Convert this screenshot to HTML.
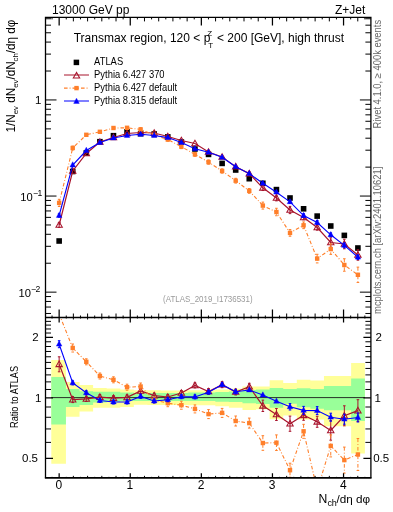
<!DOCTYPE html>
<html><head><meta charset="utf-8"><style>
html,body{margin:0;padding:0;background:#fff;width:393px;height:512px;overflow:hidden;font-family:"Liberation Sans",sans-serif}
svg{display:block;will-change:transform}
</style></head><body>
<svg width="393" height="512" viewBox="0 0 393 512" font-family="'Liberation Sans', sans-serif">
<defs><clipPath id="cr"><rect x="45.5" y="317.5" width="325.4" height="160.35000000000002"/></clipPath><clipPath id="cm"><rect x="45.5" y="17.4" width="325.4" height="300.1"/></clipPath></defs>
<g clip-path="url(#cr)">
<path d="M51.3,360.1 L65.94,360.1 L65.94,382 L79.52,382 L79.52,385.1 L93.1,385.1 L93.1,388 L106.68,388 L106.68,388.4 L120.26,388.4 L120.26,389.5 L133.84,389.5 L133.84,390.3 L147.42,390.3 L147.42,390.3 L161,390.3 L161,390.5 L174.58,390.5 L174.58,390.5 L188.16,390.5 L188.16,390.2 L201.74,390.2 L201.74,390.2 L215.32,390.2 L215.32,389.5 L228.9,389.5 L228.9,388.7 L242.48,388.7 L242.48,386.4 L256.06,386.4 L256.06,386.4 L269.64,386.4 L269.64,380.3 L283.22,380.3 L283.22,383 L296.8,383 L296.8,379.8 L310.38,379.8 L310.38,380.6 L323.96,380.6 L323.96,376 L337.54,376 L337.54,376 L351.12,376 L351.12,363.1 L364.9,363.1 L364.9,453.6 L351.12,453.6 L351.12,426.3 L337.54,426.3 L337.54,426.3 L323.96,426.3 L323.96,419.4 L310.38,419.4 L310.38,419.4 L296.8,419.4 L296.8,415.4 L283.22,415.4 L283.22,419.2 L269.64,419.2 L269.64,409.3 L256.06,409.3 L256.06,410.1 L242.48,410.1 L242.48,407.8 L228.9,407.8 L228.9,406.2 L215.32,406.2 L215.32,405.2 L201.74,405.2 L201.74,405.2 L188.16,405.2 L188.16,405 L174.58,405 L174.58,405 L161,405 L161,405 L147.42,405 L147.42,404.8 L133.84,404.8 L133.84,407 L120.26,407 L120.26,407.8 L106.68,407.8 L106.68,407.8 L93.1,407.8 L93.1,411.5 L79.52,411.5 L79.52,416.8 L65.94,416.8 L65.94,463.7 L51.3,463.7 Z" fill="#ffff99"/>
<path d="M51.3,376.9 L65.94,376.9 L65.94,389.1 L79.52,389.1 L79.52,391.3 L93.1,391.3 L93.1,391.8 L106.68,391.8 L106.68,391.8 L120.26,391.8 L120.26,392.6 L133.84,392.6 L133.84,393.3 L147.42,393.3 L147.42,393 L161,393 L161,393 L174.58,393 L174.58,393 L188.16,393 L188.16,392.5 L201.74,392.5 L201.74,392.5 L215.32,392.5 L215.32,392 L228.9,392 L228.9,391.4 L242.48,391.4 L242.48,389.9 L256.06,389.9 L256.06,389.4 L269.64,389.4 L269.64,387.9 L283.22,387.9 L283.22,389.1 L296.8,389.1 L296.8,388.2 L310.38,388.2 L310.38,389 L323.96,389 L323.96,386 L337.54,386 L337.54,386 L351.12,386 L351.12,378.6 L364.9,378.6 L364.9,421 L351.12,421 L351.12,410.3 L337.54,410.3 L337.54,410.3 L323.96,410.3 L323.96,408.7 L310.38,408.7 L310.38,407.2 L296.8,407.2 L296.8,403.8 L283.22,403.8 L283.22,407.7 L269.64,407.7 L269.64,403.9 L256.06,403.9 L256.06,403.2 L242.48,403.2 L242.48,402.1 L228.9,402.1 L228.9,401.7 L215.32,401.7 L215.32,400.9 L201.74,400.9 L201.74,400.9 L188.16,400.9 L188.16,401 L174.58,401 L174.58,401 L161,401 L161,401 L147.42,401 L147.42,401 L133.84,401 L133.84,401 L120.26,401 L120.26,401.7 L106.68,401.7 L106.68,402.5 L93.1,402.5 L93.1,404.9 L79.52,404.9 L79.52,407.1 L65.94,407.1 L65.94,424.6 L51.3,424.6 Z" fill="#99ff99"/>
<line x1="51.3" y1="397.6" x2="364.9" y2="397.6" stroke="#1a1a1a" stroke-width="0.9"/>
</g>
<g clip-path="url(#cm)">
<rect x="56.35" y="238.2" width="5.6" height="5.6" fill="#000"/>
<rect x="69.93" y="168.7" width="5.6" height="5.6" fill="#000"/>
<rect x="83.51" y="150.2" width="5.6" height="5.6" fill="#000"/>
<rect x="97.09" y="138.9" width="5.6" height="5.6" fill="#000"/>
<rect x="110.67" y="132.9" width="5.6" height="5.6" fill="#000"/>
<rect x="124.25" y="129" width="5.6" height="5.6" fill="#000"/>
<rect x="137.83" y="130.9" width="5.6" height="5.6" fill="#000"/>
<rect x="151.41" y="131.2" width="5.6" height="5.6" fill="#000"/>
<rect x="164.99" y="134.1" width="5.6" height="5.6" fill="#000"/>
<rect x="178.57" y="139.2" width="5.6" height="5.6" fill="#000"/>
<rect x="192.15" y="146.2" width="5.6" height="5.6" fill="#000"/>
<rect x="205.73" y="151.6" width="5.6" height="5.6" fill="#000"/>
<rect x="219.31" y="160.6" width="5.6" height="5.6" fill="#000"/>
<rect x="232.89" y="167.2" width="5.6" height="5.6" fill="#000"/>
<rect x="246.47" y="175.9" width="5.6" height="5.6" fill="#000"/>
<rect x="260.05" y="180.5" width="5.6" height="5.6" fill="#000"/>
<rect x="273.63" y="186.8" width="5.6" height="5.6" fill="#000"/>
<rect x="287.21" y="195.2" width="5.6" height="5.6" fill="#000"/>
<rect x="300.79" y="206" width="5.6" height="5.6" fill="#000"/>
<rect x="314.37" y="213.3" width="5.6" height="5.6" fill="#000"/>
<rect x="327.95" y="223.2" width="5.6" height="5.6" fill="#000"/>
<rect x="341.53" y="232.6" width="5.6" height="5.6" fill="#000"/>
<rect x="355.11" y="245.2" width="5.6" height="5.6" fill="#000"/>
<path d="M59.15,225 L72.73,171 L86.31,153.5 L99.89,142 L113.47,137.5 L127.05,133.5 L140.63,132.5 L154.21,133 L167.79,136.5 L181.37,140.5 L194.95,143.5 L208.53,152 L222.11,157 L235.69,166.7 L249.27,173.6 L262.85,187.8 L276.43,198 L290.01,210 L303.59,217.4 L317.17,227.5 L330.75,242.5 L344.33,244 L357.91,255" fill="none" stroke="#a8142d" stroke-width="1.2"/><path d="M59.15,222.6 V227.4 M57.85,222.6 h2.6 M57.85,227.4 h2.6 M249.27,171.97 V175.23 M247.97,171.97 h2.6 M247.97,175.23 h2.6 M262.85,185.07 V190.53 M261.55,185.07 h2.6 M261.55,190.53 h2.6 M276.43,195.13 V200.87 M275.13,195.13 h2.6 M275.13,200.87 h2.6 M290.01,206.36 V213.64 M288.71,206.36 h2.6 M288.71,213.64 h2.6 M303.59,215.01 V219.79 M302.29,215.01 h2.6 M302.29,219.79 h2.6 M317.17,224.87 V230.13 M315.87,224.87 h2.6 M315.87,230.13 h2.6 M330.75,237.81 V247.19 M329.45,237.81 h2.6 M329.45,247.19 h2.6 M344.33,239.21 V248.79 M343.03,239.21 h2.6 M343.03,248.79 h2.6 M357.91,249.78 V260.22 M356.61,249.78 h2.6 M356.61,260.22 h2.6" fill="none" stroke="#a8142d" stroke-width="1"/><polygon points="59.15,221.7 55.95,227.3 62.35,227.3" fill="none" stroke="#a8142d" stroke-width="1.05"/><polygon points="72.73,167.7 69.53,173.3 75.93,173.3" fill="none" stroke="#a8142d" stroke-width="1.05"/><polygon points="86.31,150.2 83.11,155.8 89.51,155.8" fill="none" stroke="#a8142d" stroke-width="1.05"/><polygon points="99.89,138.7 96.69,144.3 103.09,144.3" fill="none" stroke="#a8142d" stroke-width="1.05"/><polygon points="113.47,134.2 110.27,139.8 116.67,139.8" fill="none" stroke="#a8142d" stroke-width="1.05"/><polygon points="127.05,130.2 123.85,135.8 130.25,135.8" fill="none" stroke="#a8142d" stroke-width="1.05"/><polygon points="140.63,129.2 137.43,134.8 143.83,134.8" fill="none" stroke="#a8142d" stroke-width="1.05"/><polygon points="154.21,129.7 151.01,135.3 157.41,135.3" fill="none" stroke="#a8142d" stroke-width="1.05"/><polygon points="167.79,133.2 164.59,138.8 170.99,138.8" fill="none" stroke="#a8142d" stroke-width="1.05"/><polygon points="181.37,137.2 178.17,142.8 184.57,142.8" fill="none" stroke="#a8142d" stroke-width="1.05"/><polygon points="194.95,140.2 191.75,145.8 198.15,145.8" fill="none" stroke="#a8142d" stroke-width="1.05"/><polygon points="208.53,148.7 205.33,154.3 211.73,154.3" fill="none" stroke="#a8142d" stroke-width="1.05"/><polygon points="222.11,153.7 218.91,159.3 225.31,159.3" fill="none" stroke="#a8142d" stroke-width="1.05"/><polygon points="235.69,163.4 232.49,169 238.89,169" fill="none" stroke="#a8142d" stroke-width="1.05"/><polygon points="249.27,170.3 246.07,175.9 252.47,175.9" fill="none" stroke="#a8142d" stroke-width="1.05"/><polygon points="262.85,184.5 259.65,190.1 266.05,190.1" fill="none" stroke="#a8142d" stroke-width="1.05"/><polygon points="276.43,194.7 273.23,200.3 279.63,200.3" fill="none" stroke="#a8142d" stroke-width="1.05"/><polygon points="290.01,206.7 286.81,212.3 293.21,212.3" fill="none" stroke="#a8142d" stroke-width="1.05"/><polygon points="303.59,214.1 300.39,219.7 306.79,219.7" fill="none" stroke="#a8142d" stroke-width="1.05"/><polygon points="317.17,224.2 313.97,229.8 320.37,229.8" fill="none" stroke="#a8142d" stroke-width="1.05"/><polygon points="330.75,239.2 327.55,244.8 333.95,244.8" fill="none" stroke="#a8142d" stroke-width="1.05"/><polygon points="344.33,240.7 341.13,246.3 347.53,246.3" fill="none" stroke="#a8142d" stroke-width="1.05"/><polygon points="357.91,251.7 354.71,257.3 361.11,257.3" fill="none" stroke="#a8142d" stroke-width="1.05"/>
<path d="M59.15,202.9 L72.73,148 L86.31,134.8 L99.89,131.8 L113.47,128 L127.05,127.8 L140.63,129.4 L154.21,135 L167.79,139.5 L181.37,146.7 L194.95,154.4 L208.53,162.1 L222.11,171 L235.69,180.7 L249.27,190.9 L262.85,205.6 L276.43,212 L290.01,232.9 L303.59,225.3 L317.17,258.6 L330.75,249.1 L344.33,265 L357.91,274.8" fill="none" stroke="#ff7f2a" stroke-width="1.1" stroke-dasharray="3.6,2,0.9,2"/><path d="M59.15,199.3 V206.5 M57.85,199.3 h2.6 M57.85,206.5 h2.6 M72.73,146.09 V149.91 M71.43,146.09 h2.6 M71.43,149.91 h2.6 M140.63,127.72 V131.08 M139.33,127.72 h2.6 M139.33,131.08 h2.6 M167.79,137.82 V141.18 M166.49,137.82 h2.6 M166.49,141.18 h2.6 M181.37,144.79 V148.61 M180.07,144.79 h2.6 M180.07,148.61 h2.6 M194.95,152.49 V156.31 M193.65,152.49 h2.6 M193.65,156.31 h2.6 M208.53,159.95 V164.25 M207.23,159.95 h2.6 M207.23,164.25 h2.6 M222.11,168.85 V173.15 M220.81,168.85 h2.6 M220.81,173.15 h2.6 M235.69,178.31 V183.09 M234.39,178.31 h2.6 M234.39,183.09 h2.6 M249.27,188.51 V193.29 M247.97,188.51 h2.6 M247.97,193.29 h2.6 M262.85,202.11 V209.09 M261.55,202.11 h2.6 M261.55,209.09 h2.6 M276.43,208.27 V215.73 M275.13,208.27 h2.6 M275.13,215.73 h2.6 M290.01,229.55 V236.25 M288.71,229.55 h2.6 M288.71,236.25 h2.6 M303.59,221.95 V228.65 M302.29,221.95 h2.6 M302.29,228.65 h2.6 M317.17,254.29 V262.91 M315.87,254.29 h2.6 M315.87,262.91 h2.6 M330.75,243.83 V254.37 M329.45,243.83 h2.6 M329.45,254.37 h2.6 M344.33,258.78 V271.22 M343.03,258.78 h2.6 M343.03,271.22 h2.6 M357.91,267.14 V282.46 M356.61,267.14 h2.6 M356.61,282.46 h2.6" fill="none" stroke="#ff7f2a" stroke-width="1" stroke-dasharray="3.6,2,0.9,2"/><rect x="56.95" y="200.7" width="4.4" height="4.4" fill="#ff7f2a"/><rect x="70.53" y="145.8" width="4.4" height="4.4" fill="#ff7f2a"/><rect x="84.11" y="132.6" width="4.4" height="4.4" fill="#ff7f2a"/><rect x="97.69" y="129.6" width="4.4" height="4.4" fill="#ff7f2a"/><rect x="111.27" y="125.8" width="4.4" height="4.4" fill="#ff7f2a"/><rect x="124.85" y="125.6" width="4.4" height="4.4" fill="#ff7f2a"/><rect x="138.43" y="127.2" width="4.4" height="4.4" fill="#ff7f2a"/><rect x="152.01" y="132.8" width="4.4" height="4.4" fill="#ff7f2a"/><rect x="165.59" y="137.3" width="4.4" height="4.4" fill="#ff7f2a"/><rect x="179.17" y="144.5" width="4.4" height="4.4" fill="#ff7f2a"/><rect x="192.75" y="152.2" width="4.4" height="4.4" fill="#ff7f2a"/><rect x="206.33" y="159.9" width="4.4" height="4.4" fill="#ff7f2a"/><rect x="219.91" y="168.8" width="4.4" height="4.4" fill="#ff7f2a"/><rect x="233.49" y="178.5" width="4.4" height="4.4" fill="#ff7f2a"/><rect x="247.07" y="188.7" width="4.4" height="4.4" fill="#ff7f2a"/><rect x="260.65" y="203.4" width="4.4" height="4.4" fill="#ff7f2a"/><rect x="274.23" y="209.8" width="4.4" height="4.4" fill="#ff7f2a"/><rect x="287.81" y="230.7" width="4.4" height="4.4" fill="#ff7f2a"/><rect x="301.39" y="223.1" width="4.4" height="4.4" fill="#ff7f2a"/><rect x="314.97" y="256.4" width="4.4" height="4.4" fill="#ff7f2a"/><rect x="328.55" y="246.9" width="4.4" height="4.4" fill="#ff7f2a"/><rect x="342.13" y="262.8" width="4.4" height="4.4" fill="#ff7f2a"/><rect x="355.71" y="272.6" width="4.4" height="4.4" fill="#ff7f2a"/>
<path d="M59.15,215.5 L72.73,165 L86.31,150.5 L99.89,142.5 L113.47,138 L127.05,135.5 L140.63,134.3 L154.21,135.5 L167.79,137.6 L181.37,142.5 L194.95,148.8 L208.53,152.3 L222.11,157.3 L235.69,166.7 L249.27,173.6 L262.85,183.3 L276.43,192.2 L290.01,201.8 L303.59,215.6 L317.17,222.5 L330.75,234.8 L344.33,245.4 L357.91,257.2" fill="none" stroke="#0000ff" stroke-width="1.1"/><path d="M59.15,213.82 V217.18 M57.85,213.82 h2.6 M57.85,217.18 h2.6 M290.01,200.27 V203.33 M288.71,200.27 h2.6 M288.71,203.33 h2.6 M303.59,213.69 V217.51 M302.29,213.69 h2.6 M302.29,217.51 h2.6 M317.17,220.59 V224.41 M315.87,220.59 h2.6 M315.87,224.41 h2.6 M330.75,232.89 V236.71 M329.45,232.89 h2.6 M329.45,236.71 h2.6 M344.33,243.01 V247.79 M343.03,243.01 h2.6 M343.03,247.79 h2.6 M357.91,255.05 V259.35 M356.61,255.05 h2.6 M356.61,259.35 h2.6" fill="none" stroke="#0000ff" stroke-width="1"/><polygon points="59.15,212.2 56.35,217.4 61.95,217.4" fill="#0000ff" stroke="#0000ff" stroke-width="0.4"/><polygon points="72.73,161.7 69.93,166.9 75.53,166.9" fill="#0000ff" stroke="#0000ff" stroke-width="0.4"/><polygon points="86.31,147.2 83.51,152.4 89.11,152.4" fill="#0000ff" stroke="#0000ff" stroke-width="0.4"/><polygon points="99.89,139.2 97.09,144.4 102.69,144.4" fill="#0000ff" stroke="#0000ff" stroke-width="0.4"/><polygon points="113.47,134.7 110.67,139.9 116.27,139.9" fill="#0000ff" stroke="#0000ff" stroke-width="0.4"/><polygon points="127.05,132.2 124.25,137.4 129.85,137.4" fill="#0000ff" stroke="#0000ff" stroke-width="0.4"/><polygon points="140.63,131 137.83,136.2 143.43,136.2" fill="#0000ff" stroke="#0000ff" stroke-width="0.4"/><polygon points="154.21,132.2 151.41,137.4 157.01,137.4" fill="#0000ff" stroke="#0000ff" stroke-width="0.4"/><polygon points="167.79,134.3 164.99,139.5 170.59,139.5" fill="#0000ff" stroke="#0000ff" stroke-width="0.4"/><polygon points="181.37,139.2 178.57,144.4 184.17,144.4" fill="#0000ff" stroke="#0000ff" stroke-width="0.4"/><polygon points="194.95,145.5 192.15,150.7 197.75,150.7" fill="#0000ff" stroke="#0000ff" stroke-width="0.4"/><polygon points="208.53,149 205.73,154.2 211.33,154.2" fill="#0000ff" stroke="#0000ff" stroke-width="0.4"/><polygon points="222.11,154 219.31,159.2 224.91,159.2" fill="#0000ff" stroke="#0000ff" stroke-width="0.4"/><polygon points="235.69,163.4 232.89,168.6 238.49,168.6" fill="#0000ff" stroke="#0000ff" stroke-width="0.4"/><polygon points="249.27,170.3 246.47,175.5 252.07,175.5" fill="#0000ff" stroke="#0000ff" stroke-width="0.4"/><polygon points="262.85,180 260.05,185.2 265.65,185.2" fill="#0000ff" stroke="#0000ff" stroke-width="0.4"/><polygon points="276.43,188.9 273.63,194.1 279.23,194.1" fill="#0000ff" stroke="#0000ff" stroke-width="0.4"/><polygon points="290.01,198.5 287.21,203.7 292.81,203.7" fill="#0000ff" stroke="#0000ff" stroke-width="0.4"/><polygon points="303.59,212.3 300.79,217.5 306.39,217.5" fill="#0000ff" stroke="#0000ff" stroke-width="0.4"/><polygon points="317.17,219.2 314.37,224.4 319.97,224.4" fill="#0000ff" stroke="#0000ff" stroke-width="0.4"/><polygon points="330.75,231.5 327.95,236.7 333.55,236.7" fill="#0000ff" stroke="#0000ff" stroke-width="0.4"/><polygon points="344.33,242.1 341.53,247.3 347.13,247.3" fill="#0000ff" stroke="#0000ff" stroke-width="0.4"/><polygon points="357.91,253.9 355.11,259.1 360.71,259.1" fill="#0000ff" stroke="#0000ff" stroke-width="0.4"/>
</g>
<g clip-path="url(#cr)">
<path d="M59.15,364.3 L72.73,399.6 L86.31,398.9 L99.89,397.1 L113.47,398.2 L127.05,397.4 L140.63,391 L154.21,395.6 L167.79,397 L181.37,393 L194.95,385.4 L208.53,391.5 L222.11,384.7 L235.69,392 L249.27,386.7 L262.85,405.8 L276.43,414.5 L290.01,423.7 L303.59,415.3 L317.17,421.8 L330.75,430.4 L344.33,415.8 L357.91,410.6" fill="none" stroke="#a8142d" stroke-width="1.2"/><path d="M59.15,356.8 V371.8 M57.85,356.8 h2.6 M57.85,371.8 h2.6 M72.73,396.6 V402.6 M71.43,396.6 h2.6 M71.43,402.6 h2.6 M86.31,396.4 V401.4 M85.01,396.4 h2.6 M85.01,401.4 h2.6 M99.89,394.6 V399.6 M98.59,394.6 h2.6 M98.59,399.6 h2.6 M113.47,395.7 V400.7 M112.17,395.7 h2.6 M112.17,400.7 h2.6 M127.05,394.9 V399.9 M125.75,394.9 h2.6 M125.75,399.9 h2.6 M140.63,388.5 V393.5 M139.33,388.5 h2.6 M139.33,393.5 h2.6 M154.21,393.1 V398.1 M152.91,393.1 h2.6 M152.91,398.1 h2.6 M167.79,394.5 V399.5 M166.49,394.5 h2.6 M166.49,399.5 h2.6 M181.37,390.5 V395.5 M180.07,390.5 h2.6 M180.07,395.5 h2.6 M194.95,382.9 V387.9 M193.65,382.9 h2.6 M193.65,387.9 h2.6 M208.53,388.5 V394.5 M207.23,388.5 h2.6 M207.23,394.5 h2.6 M222.11,381.7 V387.7 M220.81,381.7 h2.6 M220.81,387.7 h2.6 M235.69,389 V395 M234.39,389 h2.6 M234.39,395 h2.6 M249.27,383.3 V390.1 M247.97,383.3 h2.6 M247.97,390.1 h2.6 M262.85,400.1 V411.5 M261.55,400.1 h2.6 M261.55,411.5 h2.6 M276.43,408.5 V420.5 M275.13,408.5 h2.6 M275.13,420.5 h2.6 M290.01,416.1 V431.3 M288.71,416.1 h2.6 M288.71,431.3 h2.6 M303.59,410.3 V420.3 M302.29,410.3 h2.6 M302.29,420.3 h2.6 M317.17,416.3 V427.3 M315.87,416.3 h2.6 M315.87,427.3 h2.6 M330.75,420.6 V440.2 M329.45,420.6 h2.6 M329.45,440.2 h2.6 M344.33,405.8 V425.8 M343.03,405.8 h2.6 M343.03,425.8 h2.6 M357.91,399.7 V421.5 M356.61,399.7 h2.6 M356.61,421.5 h2.6" fill="none" stroke="#a8142d" stroke-width="1"/><polygon points="59.15,361 55.95,366.6 62.35,366.6" fill="none" stroke="#a8142d" stroke-width="1.05"/><polygon points="72.73,396.3 69.53,401.9 75.93,401.9" fill="none" stroke="#a8142d" stroke-width="1.05"/><polygon points="86.31,395.6 83.11,401.2 89.51,401.2" fill="none" stroke="#a8142d" stroke-width="1.05"/><polygon points="99.89,393.8 96.69,399.4 103.09,399.4" fill="none" stroke="#a8142d" stroke-width="1.05"/><polygon points="113.47,394.9 110.27,400.5 116.67,400.5" fill="none" stroke="#a8142d" stroke-width="1.05"/><polygon points="127.05,394.1 123.85,399.7 130.25,399.7" fill="none" stroke="#a8142d" stroke-width="1.05"/><polygon points="140.63,387.7 137.43,393.3 143.83,393.3" fill="none" stroke="#a8142d" stroke-width="1.05"/><polygon points="154.21,392.3 151.01,397.9 157.41,397.9" fill="none" stroke="#a8142d" stroke-width="1.05"/><polygon points="167.79,393.7 164.59,399.3 170.99,399.3" fill="none" stroke="#a8142d" stroke-width="1.05"/><polygon points="181.37,389.7 178.17,395.3 184.57,395.3" fill="none" stroke="#a8142d" stroke-width="1.05"/><polygon points="194.95,382.1 191.75,387.7 198.15,387.7" fill="none" stroke="#a8142d" stroke-width="1.05"/><polygon points="208.53,388.2 205.33,393.8 211.73,393.8" fill="none" stroke="#a8142d" stroke-width="1.05"/><polygon points="222.11,381.4 218.91,387 225.31,387" fill="none" stroke="#a8142d" stroke-width="1.05"/><polygon points="235.69,388.7 232.49,394.3 238.89,394.3" fill="none" stroke="#a8142d" stroke-width="1.05"/><polygon points="249.27,383.4 246.07,389 252.47,389" fill="none" stroke="#a8142d" stroke-width="1.05"/><polygon points="262.85,402.5 259.65,408.1 266.05,408.1" fill="none" stroke="#a8142d" stroke-width="1.05"/><polygon points="276.43,411.2 273.23,416.8 279.63,416.8" fill="none" stroke="#a8142d" stroke-width="1.05"/><polygon points="290.01,420.4 286.81,426 293.21,426" fill="none" stroke="#a8142d" stroke-width="1.05"/><polygon points="303.59,412 300.39,417.6 306.79,417.6" fill="none" stroke="#a8142d" stroke-width="1.05"/><polygon points="317.17,418.5 313.97,424.1 320.37,424.1" fill="none" stroke="#a8142d" stroke-width="1.05"/><polygon points="330.75,427.1 327.55,432.7 333.95,432.7" fill="none" stroke="#a8142d" stroke-width="1.05"/><polygon points="344.33,412.5 341.13,418.1 347.53,418.1" fill="none" stroke="#a8142d" stroke-width="1.05"/><polygon points="357.91,407.3 354.71,412.9 361.11,412.9" fill="none" stroke="#a8142d" stroke-width="1.05"/>
<path d="M59.15,314 L72.73,348 L86.31,361.8 L99.89,376 L113.47,379.8 L127.05,387.2 L140.63,386.5 L154.21,400 L167.79,403.2 L181.37,405.2 L194.95,408.9 L208.53,414.1 L222.11,412.9 L235.69,421 L249.27,423.1 L262.85,443 L276.43,442.7 L290.01,470.2 L303.59,431.3 L317.17,490 L330.75,445.9 L344.33,460.1 L357.91,454.5" fill="none" stroke="#ff7f2a" stroke-width="1.1" stroke-dasharray="3.6,2,0.9,2"/><path d="M59.15,311 V317 M57.85,311 h2.6 M57.85,317 h2.6 M72.73,344 V352 M71.43,344 h2.6 M71.43,352 h2.6 M86.31,358.8 V364.8 M85.01,358.8 h2.6 M85.01,364.8 h2.6 M99.89,373 V379 M98.59,373 h2.6 M98.59,379 h2.6 M113.47,376.8 V382.8 M112.17,376.8 h2.6 M112.17,382.8 h2.6 M127.05,384.2 V390.2 M125.75,384.2 h2.6 M125.75,390.2 h2.6 M140.63,383 V390 M139.33,383 h2.6 M139.33,390 h2.6 M154.21,397 V403 M152.91,397 h2.6 M152.91,403 h2.6 M167.79,399.7 V406.7 M166.49,399.7 h2.6 M166.49,406.7 h2.6 M181.37,401.2 V409.2 M180.07,401.2 h2.6 M180.07,409.2 h2.6 M194.95,404.9 V412.9 M193.65,404.9 h2.6 M193.65,412.9 h2.6 M208.53,409.6 V418.6 M207.23,409.6 h2.6 M207.23,418.6 h2.6 M222.11,408.4 V417.4 M220.81,408.4 h2.6 M220.81,417.4 h2.6 M235.69,416 V426 M234.39,416 h2.6 M234.39,426 h2.6 M249.27,418.1 V428.1 M247.97,418.1 h2.6 M247.97,428.1 h2.6 M262.85,435.7 V450.3 M261.55,435.7 h2.6 M261.55,450.3 h2.6 M276.43,434.9 V450.5 M275.13,434.9 h2.6 M275.13,450.5 h2.6 M290.01,463.2 V477.2 M288.71,463.2 h2.6 M288.71,477.2 h2.6 M303.59,424.3 V438.3 M302.29,424.3 h2.6 M302.29,438.3 h2.6 M317.17,481 V499 M315.87,481 h2.6 M315.87,499 h2.6 M330.75,434.9 V456.9 M329.45,434.9 h2.6 M329.45,456.9 h2.6 M344.33,447.1 V473.1 M343.03,447.1 h2.6 M343.03,473.1 h2.6 M357.91,438.5 V470.5 M356.61,438.5 h2.6 M356.61,470.5 h2.6" fill="none" stroke="#ff7f2a" stroke-width="1" stroke-dasharray="3.6,2,0.9,2"/><rect x="56.95" y="311.8" width="4.4" height="4.4" fill="#ff7f2a"/><rect x="70.53" y="345.8" width="4.4" height="4.4" fill="#ff7f2a"/><rect x="84.11" y="359.6" width="4.4" height="4.4" fill="#ff7f2a"/><rect x="97.69" y="373.8" width="4.4" height="4.4" fill="#ff7f2a"/><rect x="111.27" y="377.6" width="4.4" height="4.4" fill="#ff7f2a"/><rect x="124.85" y="385" width="4.4" height="4.4" fill="#ff7f2a"/><rect x="138.43" y="384.3" width="4.4" height="4.4" fill="#ff7f2a"/><rect x="152.01" y="397.8" width="4.4" height="4.4" fill="#ff7f2a"/><rect x="165.59" y="401" width="4.4" height="4.4" fill="#ff7f2a"/><rect x="179.17" y="403" width="4.4" height="4.4" fill="#ff7f2a"/><rect x="192.75" y="406.7" width="4.4" height="4.4" fill="#ff7f2a"/><rect x="206.33" y="411.9" width="4.4" height="4.4" fill="#ff7f2a"/><rect x="219.91" y="410.7" width="4.4" height="4.4" fill="#ff7f2a"/><rect x="233.49" y="418.8" width="4.4" height="4.4" fill="#ff7f2a"/><rect x="247.07" y="420.9" width="4.4" height="4.4" fill="#ff7f2a"/><rect x="260.65" y="440.8" width="4.4" height="4.4" fill="#ff7f2a"/><rect x="274.23" y="440.5" width="4.4" height="4.4" fill="#ff7f2a"/><rect x="287.81" y="468" width="4.4" height="4.4" fill="#ff7f2a"/><rect x="301.39" y="429.1" width="4.4" height="4.4" fill="#ff7f2a"/><rect x="314.97" y="487.8" width="4.4" height="4.4" fill="#ff7f2a"/><rect x="328.55" y="443.7" width="4.4" height="4.4" fill="#ff7f2a"/><rect x="342.13" y="457.9" width="4.4" height="4.4" fill="#ff7f2a"/><rect x="355.71" y="452.3" width="4.4" height="4.4" fill="#ff7f2a"/>
<path d="M59.15,344.2 L72.73,382.9 L86.31,392.8 L99.89,400.5 L113.47,402 L127.05,402 L140.63,396.4 L154.21,401 L167.79,399.7 L181.37,396.7 L194.95,396.9 L208.53,392.2 L222.11,384.7 L235.69,391.8 L249.27,390 L262.85,395.1 L276.43,401.3 L290.01,406.8 L303.59,410.4 L317.17,410.6 L330.75,417.2 L344.33,419.2 L357.91,417.5" fill="none" stroke="#0000ff" stroke-width="1.1"/><path d="M59.15,340.7 V347.7 M57.85,340.7 h2.6 M57.85,347.7 h2.6 M72.73,380.9 V384.9 M71.43,380.9 h2.6 M71.43,384.9 h2.6 M86.31,390.8 V394.8 M85.01,390.8 h2.6 M85.01,394.8 h2.6 M99.89,398.5 V402.5 M98.59,398.5 h2.6 M98.59,402.5 h2.6 M113.47,400 V404 M112.17,400 h2.6 M112.17,404 h2.6 M127.05,400 V404 M125.75,400 h2.6 M125.75,404 h2.6 M140.63,394.4 V398.4 M139.33,394.4 h2.6 M139.33,398.4 h2.6 M154.21,399 V403 M152.91,399 h2.6 M152.91,403 h2.6 M167.79,397.7 V401.7 M166.49,397.7 h2.6 M166.49,401.7 h2.6 M181.37,394.7 V398.7 M180.07,394.7 h2.6 M180.07,398.7 h2.6 M194.95,394.9 V398.9 M193.65,394.9 h2.6 M193.65,398.9 h2.6 M208.53,390.2 V394.2 M207.23,390.2 h2.6 M207.23,394.2 h2.6 M222.11,382.7 V386.7 M220.81,382.7 h2.6 M220.81,386.7 h2.6 M235.69,389.8 V393.8 M234.39,389.8 h2.6 M234.39,393.8 h2.6 M290.01,403.6 V410 M288.71,403.6 h2.6 M288.71,410 h2.6 M303.59,406.4 V414.4 M302.29,406.4 h2.6 M302.29,414.4 h2.6 M317.17,406.6 V414.6 M315.87,406.6 h2.6 M315.87,414.6 h2.6 M330.75,413.2 V421.2 M329.45,413.2 h2.6 M329.45,421.2 h2.6 M344.33,414.2 V424.2 M343.03,414.2 h2.6 M343.03,424.2 h2.6 M357.91,413 V422 M356.61,413 h2.6 M356.61,422 h2.6" fill="none" stroke="#0000ff" stroke-width="1"/><polygon points="59.15,340.9 56.35,346.1 61.95,346.1" fill="#0000ff" stroke="#0000ff" stroke-width="0.4"/><polygon points="72.73,379.6 69.93,384.8 75.53,384.8" fill="#0000ff" stroke="#0000ff" stroke-width="0.4"/><polygon points="86.31,389.5 83.51,394.7 89.11,394.7" fill="#0000ff" stroke="#0000ff" stroke-width="0.4"/><polygon points="99.89,397.2 97.09,402.4 102.69,402.4" fill="#0000ff" stroke="#0000ff" stroke-width="0.4"/><polygon points="113.47,398.7 110.67,403.9 116.27,403.9" fill="#0000ff" stroke="#0000ff" stroke-width="0.4"/><polygon points="127.05,398.7 124.25,403.9 129.85,403.9" fill="#0000ff" stroke="#0000ff" stroke-width="0.4"/><polygon points="140.63,393.1 137.83,398.3 143.43,398.3" fill="#0000ff" stroke="#0000ff" stroke-width="0.4"/><polygon points="154.21,397.7 151.41,402.9 157.01,402.9" fill="#0000ff" stroke="#0000ff" stroke-width="0.4"/><polygon points="167.79,396.4 164.99,401.6 170.59,401.6" fill="#0000ff" stroke="#0000ff" stroke-width="0.4"/><polygon points="181.37,393.4 178.57,398.6 184.17,398.6" fill="#0000ff" stroke="#0000ff" stroke-width="0.4"/><polygon points="194.95,393.6 192.15,398.8 197.75,398.8" fill="#0000ff" stroke="#0000ff" stroke-width="0.4"/><polygon points="208.53,388.9 205.73,394.1 211.33,394.1" fill="#0000ff" stroke="#0000ff" stroke-width="0.4"/><polygon points="222.11,381.4 219.31,386.6 224.91,386.6" fill="#0000ff" stroke="#0000ff" stroke-width="0.4"/><polygon points="235.69,388.5 232.89,393.7 238.49,393.7" fill="#0000ff" stroke="#0000ff" stroke-width="0.4"/><polygon points="249.27,386.7 246.47,391.9 252.07,391.9" fill="#0000ff" stroke="#0000ff" stroke-width="0.4"/><polygon points="262.85,391.8 260.05,397 265.65,397" fill="#0000ff" stroke="#0000ff" stroke-width="0.4"/><polygon points="276.43,398 273.63,403.2 279.23,403.2" fill="#0000ff" stroke="#0000ff" stroke-width="0.4"/><polygon points="290.01,403.5 287.21,408.7 292.81,408.7" fill="#0000ff" stroke="#0000ff" stroke-width="0.4"/><polygon points="303.59,407.1 300.79,412.3 306.39,412.3" fill="#0000ff" stroke="#0000ff" stroke-width="0.4"/><polygon points="317.17,407.3 314.37,412.5 319.97,412.5" fill="#0000ff" stroke="#0000ff" stroke-width="0.4"/><polygon points="330.75,413.9 327.95,419.1 333.55,419.1" fill="#0000ff" stroke="#0000ff" stroke-width="0.4"/><polygon points="344.33,415.9 341.53,421.1 347.13,421.1" fill="#0000ff" stroke="#0000ff" stroke-width="0.4"/><polygon points="357.91,414.2 355.11,419.4 360.71,419.4" fill="#0000ff" stroke="#0000ff" stroke-width="0.4"/>
</g>
<path d="M45.5,477.85 V17.4 H370.9 V477.85 M45.5,317.5 H370.9" fill="none" stroke="#000" stroke-width="1.3"/>
<path d="M44.85,477.85 H371.54999999999995" fill="none" stroke="#000" stroke-width="1.9"/>
<path d="M52.04,17.4 v2 M52.04,317.5 v-2 M52.04,317.5 v1 M52.04,477.85 v-1 M66.26,17.4 v2 M66.26,317.5 v-2 M66.26,317.5 v1 M66.26,477.85 v-1 M73.37,17.4 v4 M73.37,317.5 v-4 M73.37,317.5 v2 M73.37,477.85 v-2 M80.48,17.4 v2 M80.48,317.5 v-2 M80.48,317.5 v1 M80.48,477.85 v-1 M87.59,17.4 v4 M87.59,317.5 v-4 M87.59,317.5 v2 M87.59,477.85 v-2 M94.7,17.4 v2 M94.7,317.5 v-2 M94.7,317.5 v1 M94.7,477.85 v-1 M101.81,17.4 v4 M101.81,317.5 v-4 M101.81,317.5 v2 M101.81,477.85 v-2 M108.92,17.4 v2 M108.92,317.5 v-2 M108.92,317.5 v1 M108.92,477.85 v-1 M116.03,17.4 v4 M116.03,317.5 v-4 M116.03,317.5 v2 M116.03,477.85 v-2 M123.14,17.4 v2 M123.14,317.5 v-2 M123.14,317.5 v1 M123.14,477.85 v-1 M137.36,17.4 v2 M137.36,317.5 v-2 M137.36,317.5 v1 M137.36,477.85 v-1 M144.47,17.4 v4 M144.47,317.5 v-4 M144.47,317.5 v2 M144.47,477.85 v-2 M151.58,17.4 v2 M151.58,317.5 v-2 M151.58,317.5 v1 M151.58,477.85 v-1 M158.69,17.4 v4 M158.69,317.5 v-4 M158.69,317.5 v2 M158.69,477.85 v-2 M165.8,17.4 v2 M165.8,317.5 v-2 M165.8,317.5 v1 M165.8,477.85 v-1 M172.91,17.4 v4 M172.91,317.5 v-4 M172.91,317.5 v2 M172.91,477.85 v-2 M180.02,17.4 v2 M180.02,317.5 v-2 M180.02,317.5 v1 M180.02,477.85 v-1 M187.13,17.4 v4 M187.13,317.5 v-4 M187.13,317.5 v2 M187.13,477.85 v-2 M194.24,17.4 v2 M194.24,317.5 v-2 M194.24,317.5 v1 M194.24,477.85 v-1 M208.46,17.4 v2 M208.46,317.5 v-2 M208.46,317.5 v1 M208.46,477.85 v-1 M215.57,17.4 v4 M215.57,317.5 v-4 M215.57,317.5 v2 M215.57,477.85 v-2 M222.68,17.4 v2 M222.68,317.5 v-2 M222.68,317.5 v1 M222.68,477.85 v-1 M229.79,17.4 v4 M229.79,317.5 v-4 M229.79,317.5 v2 M229.79,477.85 v-2 M236.9,17.4 v2 M236.9,317.5 v-2 M236.9,317.5 v1 M236.9,477.85 v-1 M244.01,17.4 v4 M244.01,317.5 v-4 M244.01,317.5 v2 M244.01,477.85 v-2 M251.12,17.4 v2 M251.12,317.5 v-2 M251.12,317.5 v1 M251.12,477.85 v-1 M258.23,17.4 v4 M258.23,317.5 v-4 M258.23,317.5 v2 M258.23,477.85 v-2 M265.34,17.4 v2 M265.34,317.5 v-2 M265.34,317.5 v1 M265.34,477.85 v-1 M279.56,17.4 v2 M279.56,317.5 v-2 M279.56,317.5 v1 M279.56,477.85 v-1 M286.67,17.4 v4 M286.67,317.5 v-4 M286.67,317.5 v2 M286.67,477.85 v-2 M293.78,17.4 v2 M293.78,317.5 v-2 M293.78,317.5 v1 M293.78,477.85 v-1 M300.89,17.4 v4 M300.89,317.5 v-4 M300.89,317.5 v2 M300.89,477.85 v-2 M308,17.4 v2 M308,317.5 v-2 M308,317.5 v1 M308,477.85 v-1 M315.11,17.4 v4 M315.11,317.5 v-4 M315.11,317.5 v2 M315.11,477.85 v-2 M322.22,17.4 v2 M322.22,317.5 v-2 M322.22,317.5 v1 M322.22,477.85 v-1 M329.33,17.4 v4 M329.33,317.5 v-4 M329.33,317.5 v2 M329.33,477.85 v-2 M336.44,17.4 v2 M336.44,317.5 v-2 M336.44,317.5 v1 M336.44,477.85 v-1 M350.66,17.4 v2 M350.66,317.5 v-2 M350.66,317.5 v1 M350.66,477.85 v-1 M357.77,17.4 v4 M357.77,317.5 v-4 M357.77,317.5 v2 M357.77,477.85 v-2 M364.88,17.4 v2 M364.88,317.5 v-2 M364.88,317.5 v1 M364.88,477.85 v-1 M45.5,313.47 h5.5 M370.9,313.47 h-5.5 M45.5,307.04 h5.5 M370.9,307.04 h-5.5 M45.5,301.46 h5.5 M370.9,301.46 h-5.5 M45.5,296.55 h5.5 M370.9,296.55 h-5.5 M45.5,292.15 h11 M370.9,292.15 h-11 M45.5,263.22 h5.5 M370.9,263.22 h-5.5 M45.5,246.3 h5.5 M370.9,246.3 h-5.5 M45.5,234.29 h5.5 M370.9,234.29 h-5.5 M45.5,224.98 h5.5 M370.9,224.98 h-5.5 M45.5,217.37 h5.5 M370.9,217.37 h-5.5 M45.5,210.94 h5.5 M370.9,210.94 h-5.5 M45.5,205.36 h5.5 M370.9,205.36 h-5.5 M45.5,200.45 h5.5 M370.9,200.45 h-5.5 M45.5,196.05 h11 M370.9,196.05 h-11 M45.5,167.12 h5.5 M370.9,167.12 h-5.5 M45.5,150.2 h5.5 M370.9,150.2 h-5.5 M45.5,138.19 h5.5 M370.9,138.19 h-5.5 M45.5,128.88 h5.5 M370.9,128.88 h-5.5 M45.5,121.27 h5.5 M370.9,121.27 h-5.5 M45.5,114.84 h5.5 M370.9,114.84 h-5.5 M45.5,109.26 h5.5 M370.9,109.26 h-5.5 M45.5,104.35 h5.5 M370.9,104.35 h-5.5 M45.5,99.95 h11 M370.9,99.95 h-11 M45.5,71.02 h5.5 M370.9,71.02 h-5.5 M45.5,54.1 h5.5 M370.9,54.1 h-5.5 M45.5,42.09 h5.5 M370.9,42.09 h-5.5 M45.5,32.78 h5.5 M370.9,32.78 h-5.5 M45.5,25.17 h5.5 M370.9,25.17 h-5.5 M45.5,18.74 h5.5 M370.9,18.74 h-5.5 M45.5,442.39 h5.5 M370.9,442.39 h-5.5 M45.5,428.94 h5.5 M370.9,428.94 h-5.5 M45.5,417.28 h5.5 M370.9,417.28 h-5.5 M45.5,407 h5.5 M370.9,407 h-5.5 M45.5,389.48 h5.5 M370.9,389.48 h-5.5 M45.5,381.88 h5.5 M370.9,381.88 h-5.5 M45.5,374.9 h5.5 M370.9,374.9 h-5.5 M45.5,368.43 h5.5 M370.9,368.43 h-5.5 M45.5,362.41 h5.5 M370.9,362.41 h-5.5 M45.5,356.77 h5.5 M370.9,356.77 h-5.5 M45.5,351.48 h5.5 M370.9,351.48 h-5.5 M45.5,346.49 h5.5 M370.9,346.49 h-5.5 M45.5,341.77 h5.5 M370.9,341.77 h-5.5 M45.5,333.03 h5.5 M370.9,333.03 h-5.5 M45.5,328.97 h5.5 M370.9,328.97 h-5.5 M45.5,325.09 h5.5 M370.9,325.09 h-5.5 M45.5,321.38 h5.5 M370.9,321.38 h-5.5" stroke="#000" stroke-width="1.0" fill="none"/>
<path d="M59.15,17.4 v8 M59.15,317.5 v-8 M59.15,317.5 v5 M59.15,477.85 v-4.5 M130.25,17.4 v8 M130.25,317.5 v-8 M130.25,317.5 v5 M130.25,477.85 v-4.5 M201.35,17.4 v8 M201.35,317.5 v-8 M201.35,317.5 v5 M201.35,477.85 v-4.5 M272.45,17.4 v8 M272.45,317.5 v-8 M272.45,317.5 v5 M272.45,477.85 v-4.5 M343.55,17.4 v8 M343.55,317.5 v-8 M343.55,317.5 v5 M343.55,477.85 v-4.5 M45.5,458.31 h7.5 M370.9,458.31 h-7.5 M45.5,397.8 h7.5 M370.9,397.8 h-7.5 M45.5,337.29 h7.5 M370.9,337.29 h-7.5" stroke="#000" stroke-width="1.25" fill="none"/>
<text x="41.4" y="103.8" font-size="11.5" text-anchor="end" >1</text>
<text x="32.8" y="200.9" font-size="11.2" text-anchor="end">10</text><text x="32.9" y="196.2" font-size="8.6" letter-spacing="-0.4">−1</text>
<text x="30.9" y="296.6" font-size="11.2" text-anchor="end">10</text><text x="31.0" y="291.7" font-size="8.6" letter-spacing="-0.4">−2</text>
<text x="38.6" y="341" font-size="11.5" text-anchor="end" >2</text>
<text x="41.4" y="401.8" font-size="11.5" text-anchor="end" >1</text>
<text x="38" y="462" font-size="11.5" text-anchor="end" >0.5</text>
<text x="375.6" y="341" font-size="11.5" text-anchor="start" >2</text>
<text x="374.6" y="401.8" font-size="11.5" text-anchor="start" >1</text>
<text x="373.2" y="462" font-size="11.5" text-anchor="start" >0.5</text>
<text x="58.85" y="489" font-size="12" text-anchor="middle" >0</text>
<text x="129.95" y="489" font-size="12" text-anchor="middle" >1</text>
<text x="201.05" y="489" font-size="12" text-anchor="middle" >2</text>
<text x="272.15" y="489" font-size="12" text-anchor="middle" >3</text>
<text x="343.25" y="489" font-size="12" text-anchor="middle" >4</text>
<text x="52" y="13.7" font-size="12" text-anchor="start" >13000 GeV pp</text>
<text x="365.3" y="13.7" font-size="12" text-anchor="end" >Z+Jet</text>
<text x="73.7" y="41.6" font-size="12">Transmax region, 120 &lt; p<tspan font-size="8" dy="-5.2" dx="-3">Z</tspan><tspan font-size="8" dy="11.5" dx="-4">T</tspan><tspan dy="-6.3" dx="0.5"> &lt; 200 [GeV], high thrust</tspan></text>
<rect x="73.65" y="59.65" width="5.5" height="5.5" fill="#000"/>
<line x1="64" y1="75.0" x2="89" y2="75.0" stroke="#a8142d" stroke-width="1.0"/><polygon points="76.5,72.4 73.3,78 79.7,78" fill="none" stroke="#a8142d" stroke-width="1.05"/>
<line x1="64" y1="88.1" x2="89" y2="88.1" stroke="#ff7f2a" stroke-width="1.1" stroke-dasharray="3.6,2,0.9,2"/><rect x="74.3" y="85.9" width="4.4" height="4.4" fill="#ff7f2a"/>
<line x1="64" y1="101.0" x2="89" y2="101.0" stroke="#0000ff" stroke-width="1.0"/><polygon points="76.5,98.2 73.7,103.4 79.3,103.4" fill="#0000ff" stroke="#0000ff" stroke-width="0.4"/>
<text transform="translate(94.1,65.3) scale(1,1.12)" font-size="9.4">ATLAS</text>
<text transform="translate(94.1,78.3) scale(1,1.12)" font-size="9.4">Pythia 6.427 370</text>
<text transform="translate(94.1,91.3) scale(1,1.12)" font-size="9.4">Pythia 6.427 default</text>
<text transform="translate(94.1,104.3) scale(1,1.12)" font-size="9.4">Pythia 8.315 default</text>
<text transform="translate(15,132.5) rotate(-90) scale(0.975,1)" font-size="12">1/N<tspan font-size="8" dy="2.5">ev</tspan><tspan dy="-2.5"> dN</tspan><tspan font-size="8" dy="2.5">ev</tspan><tspan dy="-2.5">/dN</tspan><tspan font-size="8" dy="2.5">ch</tspan><tspan dy="-2.5">/dη dφ</tspan></text>
<text transform="translate(18.3,428) rotate(-90) scale(1,1.1)" font-size="9.2">Ratio to ATLAS</text>
<text x="318.6" y="503.3" font-size="12.2">N<tspan font-size="9" dy="3" letter-spacing="-0.2">ch</tspan><tspan dy="-3" font-size="11.7">/dη dφ</tspan></text>
<text transform="translate(380.6,128.4) rotate(-90) scale(1,1.11)" font-size="9.4" fill="#666">Rivet 4.1.0, ≥ 400k events</text>
<text transform="translate(380.8,313.9) rotate(-90) scale(1,1.11)" font-size="9.4" fill="#666">mcplots.cern.ch [arXiv:2401.10621]</text>
<text transform="translate(207.8,301.6) scale(1,1.1)" font-size="7.95" text-anchor="middle" fill="#9a9a9a">(ATLAS_2019_I1736531)</text>
</svg></body></html>
